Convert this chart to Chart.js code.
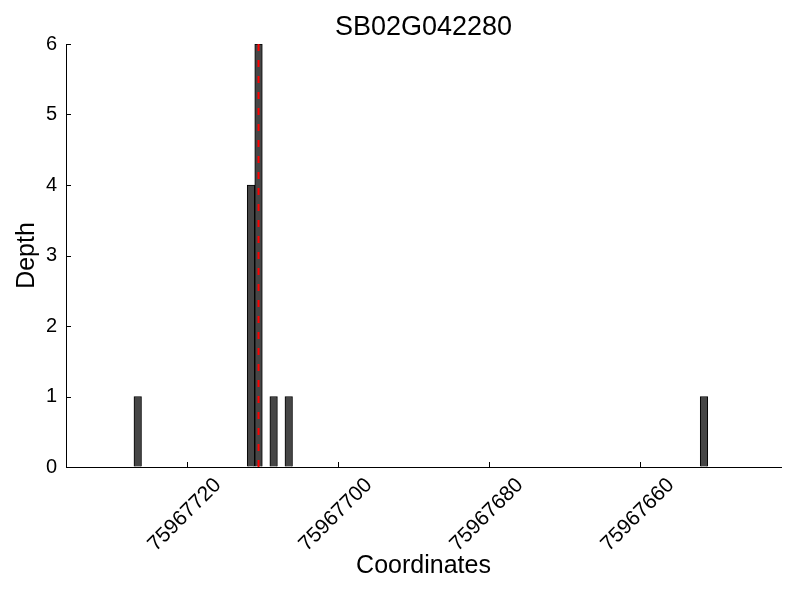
<!DOCTYPE html>
<html>
<head>
<meta charset="utf-8">
<script src="https://cdn.jsdelivr.net/npm/chart.js@4.4.0/dist/chart.umd.min.js"></script>
<style>
  body { margin: 0; background: #fff; }
  #wrap { width: 800px; height: 600px; }
</style>
</head>
<body>
<div id="wrap"><canvas id="depthChart" width="800" height="600"></canvas></div>
<script>
// read coverage, one base per bar (left edge of each bar)
const coordinates = [75967726, 75967711, 75967710, 75967708, 75967706, 75967651];
const depths = [1, 4, 6, 1, 1, 1];
const xTicks = [75967720, 75967700, 75967680, 75967660];
const xMin = 75967641.3;
const xMax = 75967736;
const markerPos = 75967710.5;
const yMax = 6;

const font = 'Liberation Sans, Arial, sans-serif';

// matplotlib-like ticks pointing into the plot
const innerTicks = {
    id: 'innerTicks',
    afterDraw(chart) {
        const { ctx, chartArea, scales: { x, y } } = chart;
        ctx.save();
        ctx.strokeStyle = '#000';
        ctx.lineWidth = 1;
        ctx.beginPath();
        x.ticks.forEach(t => {
            const px = Math.round(x.getPixelForValue(t.value)) + 0.5;
            ctx.moveTo(px, chartArea.bottom);
            ctx.lineTo(px, chartArea.bottom - 5);
        });
        y.ticks.forEach(t => {
            const py = Math.round(y.getPixelForValue(t.value)) + 0.5;
            ctx.moveTo(chartArea.left, py);
            ctx.lineTo(chartArea.left + 5, py);
        });
        ctx.stroke();
        ctx.restore();
    }
};

const ctx = document.getElementById('depthChart').getContext('2d');
new Chart(ctx, {
    type: 'bar',
    data: {
        datasets: [
            {
                type: 'line',
                data: [{ x: markerPos, y: 0 }, { x: markerPos, y: yMax }],
                borderColor: '#ff0000',
                borderWidth: 2,
                borderDash: [7, 9],
                pointRadius: 0,
                fill: false,
                order: 0,
            },
            {
                label: 'Depth',
                data: coordinates.map((c, i) => ({ x: c + 0.5, y: depths[i] })),
                backgroundColor: '#464646',
                borderColor: '#000000',
                borderWidth: 1,
                barPercentage: 1,
                categoryPercentage: 1,
                order: 1,
            },
        ],
    },
    options: {
        responsive: false,
        animation: false,
        layout: { padding: { left: 0, right: 19, top: 0, bottom: 0 } },
        plugins: {
            legend: { display: false },
            tooltip: { enabled: false },
            title: {
                display: true,
                text: 'SB02G042280',
                fullSize: false,
                color: '#000',
                font: { family: font, size: 27, weight: 'normal' },
                padding: { top: 11, bottom: 0.6 },
            },
        },
        scales: {
            x: {
                type: 'linear',
                reverse: true,
                offset: false,
                min: xMin,
                max: xMax,
                afterBuildTicks: scale => { scale.ticks = xTicks.map(v => ({ value: v })); },
                afterFit: scale => { scale.height = 133; },
                grid: { display: true, drawOnChartArea: false, drawTicks: false },
                border: { display: true, color: '#000', width: 1 },
                ticks: {
                    color: '#000',
                    font: { family: font, size: 21 },
                    minRotation: 45,
                    maxRotation: 45,
                    padding: 6,
                    labelOffset: 31,
                    callback: v => String(v),
                },
                title: {
                    display: true,
                    text: 'Coordinates',
                    color: '#000',
                    font: { family: font, size: 25 },
                    padding: { top: 0, bottom: 19 },
                },
            },
            y: {
                min: 0,
                max: yMax,
                afterFit: scale => { scale.width = 66; },
                grid: { display: true, drawOnChartArea: false, drawTicks: false },
                border: { display: true, color: '#000', width: 1 },
                ticks: {
                    stepSize: 1,
                    color: '#000',
                    font: { family: font, size: 20 },
                    padding: 9,
                },
                title: {
                    display: true,
                    text: 'Depth',
                    color: '#000',
                    font: { family: font, size: 25 },
                    padding: { top: 12, bottom: 0 },
                },
            },
        },
    },
    plugins: [innerTicks],
});
</script>
</body>
</html>
